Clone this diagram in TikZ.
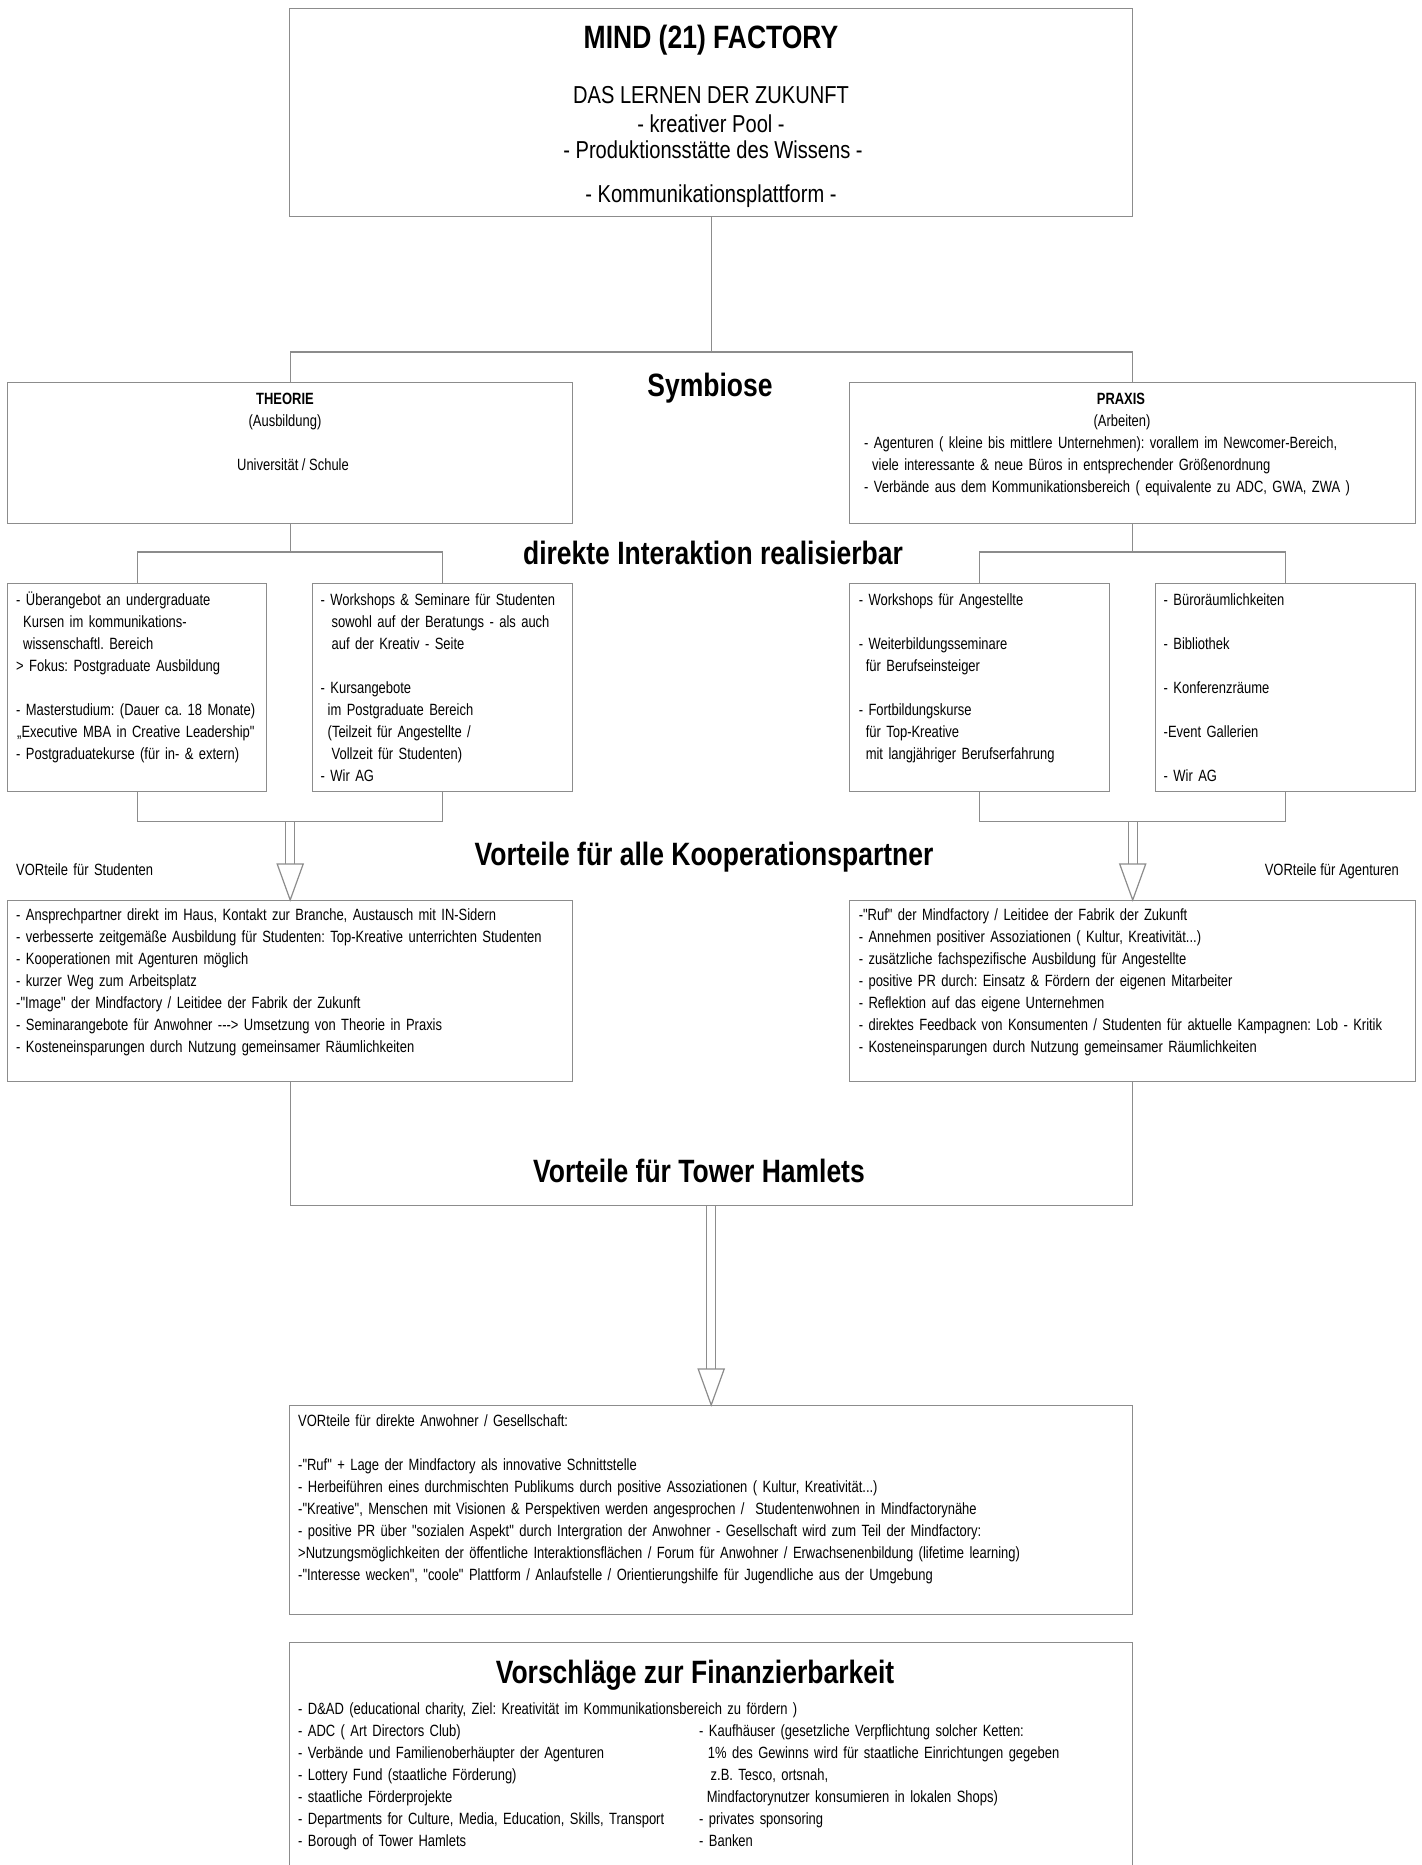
\documentclass[tikz,border=0pt]{standalone}
\usepackage{fontspec}
\setmainfont{Liberation Sans}[FakeStretch=0.82,Ligatures=TeXOff]
\newfontfamily\bodyfont{Liberation Sans}[FakeStretch=0.795,Ligatures=TeXOff]
\usetikzlibrary{calc}
\definecolor{linegray}{RGB}{140,140,140}
\frenchspacing
\newcommand{\hollowarrow}[2]{%
  \draw[conn] ($(#1)+(-4.5,0)$) -- ($(#2)+(-4.5,-36)$);
  \draw[conn] ($(#1)+(4.5,0)$) -- ($(#2)+(4.5,-36)$);
  \draw[conn,fill=white] ($(#2)+(-13,-36)$) -- ($(#2)+(13,-36)$) -- (#2) -- cycle;}
\begin{document}
\begin{tikzpicture}[x=1pt,y=-1pt,
  box/.style={draw=linegray,line width=1.4pt,inner sep=0pt,anchor=north west},
  conn/.style={draw=linegray,line width=1.2pt},
  body/.style={font=\bodyfont\fontsize{16.3}{22}\selectfont\frenchspacing,text width=900pt,align=left,inner sep=0pt,anchor=base west},
  bodyline/.style={font=\bodyfont\fontsize{16.3}{22}\selectfont\frenchspacing,inner sep=0pt,anchor=base},
  boldline/.style={font=\bodyfont\fontsize{16.3}{22}\selectfont\bfseries,inner sep=0pt,anchor=base},
  head/.style={font=\fontsize{32.3}{36}\selectfont\bfseries,inner sep=0pt,anchor=base},
  sub/.style={font=\fontsize{24.5}{28}\selectfont,inner sep=0pt,anchor=base},
]
\useasboundingbox (0,0) rectangle (1421,1865);
\fill[white] (0,0) rectangle (1421,1865);

% boxes
\node[box,minimum width=843pt,minimum height=208pt] (T) at (289,8) {};
\node[box,minimum width=565pt,minimum height=141pt] (TH) at (7,382) {};
\node[box,minimum width=566pt,minimum height=141pt] (PR) at (849,382) {};
\node[box,minimum width=259pt,minimum height=208pt] (L1) at (7,583) {};
\node[box,minimum width=260pt,minimum height=208pt] (L2) at (312,583) {};
\node[box,minimum width=260pt,minimum height=208pt] (R1) at (849,583) {};
\node[box,minimum width=260pt,minimum height=208pt] (R2) at (1155,583) {};
\node[box,minimum width=565pt,minimum height=181pt] (S) at (7,900) {};
\node[box,minimum width=566pt,minimum height=181pt] (A) at (849,900) {};
\node[box,minimum width=843pt,minimum height=209pt] (G) at (289,1405) {};
\node[box,minimum width=843pt,minimum height=260pt] (F) at (289,1642) {};

% connectors
\draw[conn] (T.south) -- (T.south |- 0,352);
\draw[conn] (TH.north) -- ++(0,-30) -| (PR.north);
\draw[conn] (TH.south) -- (TH.south |- 0,552);
\draw[conn] (L1.north) -- ++(0,-31) -| (L2.north);
\draw[conn] (PR.south) -- (PR.south |- 0,552);
\draw[conn] (R1.north) -- ++(0,-31) -| (R2.north);
\draw[conn] (L1.south) -- ++(0,29) -| (L2.south);
\draw[conn] (R1.south) -- ++(0,29) -| (R2.south);
\coordinate (bL) at ($(S.north |- L1.south)+(0,29)$);
\coordinate (bR) at ($(A.north |- R1.south)+(0,29)$);
\hollowarrow{bL}{S.north}
\hollowarrow{bR}{A.north}
\draw[conn] (S.south) -- ++(0,123) -| (A.south);
\coordinate (bT) at ($(G.north |- S.south)+(0,123)$);
\hollowarrow{bT}{G.north}

% top box text
\node[head] (title) at (711,49) {MIND (21) FACTORY};
\node[sub] (t1) at (711,104) {DAS LERNEN DER ZUKUNFT};
\node[sub] (t2) at (711,132) {- kreativer Pool -};
\node[sub] (t3) at (713,158) {- Produktionsstätte des Wissens -};
\node[sub] (t4) at (711,202) {- Kommunikationsplattform -};

\node[head] (sym) at (710,396) {Symbiose};

\node[boldline] (th1) at (285,404) {THEORIE};
\node[bodyline] (th2) at (285,426) {(Ausbildung)};
\node[bodyline] (th3) at (293,470) {Universität / Schule};

\node[boldline] (pr1) at (1121,404) {PRAXIS};
\node[bodyline] (pr2) at (1122,426) {(Arbeiten)};
\node[body] (pr3) at (864,448) {- Agenturen ( kleine bis mittlere Unternehmen): vorallem im Newcomer-Bereich,\\
\hspace*{8pt}viele interessante \& neue Büros in entsprechender Größenordnung\\
- Verbände aus dem Kommunikationsbereich ( equivalente zu ADC, GWA, ZWA )};

\node[head] (dir) at (713,564) {direkte Interaktion realisierbar};

\node[body] (l1t) at (16,605) {- Überangebot an undergraduate\\
\hspace*{7pt}Kursen im kommunikations-\\
\hspace*{7pt}wissenschaftl. Bereich\\
> Fokus: Postgraduate Ausbildung\\
~\\
- Masterstudium: (Dauer ca. 18 Monate)\\
\hspace*{1pt}„Executive MBA in Creative Leadership"\\
- Postgraduatekurse (für in- \& extern)};

\node[body] (l2t) at (320.5,605) {- Workshops \& Seminare für Studenten\\
\hspace*{11pt}sowohl auf der Beratungs - als auch\\
\hspace*{11pt}auf der Kreativ - Seite\\
~\\
- Kursangebote\\
\hspace*{7pt}im Postgraduate Bereich\\
\hspace*{7pt}(Teilzeit für Angestellte /\\
\hspace*{11pt}Vollzeit für Studenten)\\
- Wir AG};

\node[body] (r1t) at (858.6,605) {- Workshops für Angestellte\\
~\\
- Weiterbildungsseminare\\
\hspace*{7pt}für Berufseinsteiger\\
~\\
- Fortbildungskurse\\
\hspace*{7pt}für Top-Kreative\\
\hspace*{7pt}mit langjähriger Berufserfahrung};

\node[body] (r2t) at (1163.5,605) {- Büroräumlichkeiten\\
~\\
- Bibliothek\\
~\\
- Konferenzräume\\
~\\
-Event Gallerien\\
~\\
- Wir AG};

\node[body] (vs) at (16,875) {VORteile für Studenten};
\node[head] (vk) at (704,865) {Vorteile für alle Kooperationspartner};
\node[bodyline,anchor=base east] (va) at (1399,875) {VORteile für Agenturen};

\node[body] (st) at (16,920) {- Ansprechpartner direkt im Haus, Kontakt zur Branche, Austausch mit IN-Sidern\\
- verbesserte zeitgemäße Ausbildung für Studenten: Top-Kreative unterrichten Studenten\\
- Kooperationen mit Agenturen möglich\\
- kurzer Weg zum Arbeitsplatz\\
-"Image" der Mindfactory / Leitidee der Fabrik der Zukunft\\
- Seminarangebote für Anwohner -{}-{}-> Umsetzung von Theorie in Praxis\\
- Kosteneinsparungen durch Nutzung gemeinsamer Räumlichkeiten};

\node[body] (at) at (858.6,920) {-"Ruf" der Mindfactory / Leitidee der Fabrik der Zukunft\\
- Annehmen positiver Assoziationen ( Kultur, Kreativität...)\\
- zusätzliche fachspezifische Ausbildung für Angestellte\\
- positive PR durch: Einsatz \& Fördern der eigenen Mitarbeiter\\
- Reflektion auf das eigene Unternehmen\\
- direktes Feedback von Konsumenten / Studenten für aktuelle Kampagnen: Lob - Kritik\\
- Kosteneinsparungen durch Nutzung gemeinsamer Räumlichkeiten};

\node[head] (tw) at (699,1182) {Vorteile für Tower Hamlets};

\node[body] (gt) at (298,1426) {VORteile für direkte Anwohner / Gesellschaft:\\
~\\
-"Ruf" + Lage der Mindfactory als innovative Schnittstelle\\
- Herbeiführen eines durchmischten Publikums durch positive Assoziationen ( Kultur, Kreativität...)\\
-"Kreative", Menschen mit Visionen \& Perspektiven werden angesprochen /\ \ Studentenwohnen in Mindfactorynähe\\
- positive PR über "sozialen Aspekt" durch Intergration der Anwohner - Gesellschaft wird zum Teil der Mindfactory:\\
>Nutzungsmöglichkeiten der öffentliche Interaktionsflächen / Forum für Anwohner / Erwachsenenbildung (lifetime learning)\\
-"Interesse wecken", "coole" Plattform / Anlaufstelle / Orientierungshilfe für Jugendliche aus der Umgebung};

\node[head] (fin) at (695,1683) {Vorschläge zur Finanzierbarkeit};
\node[body] (fl) at (298,1714) {- D\&AD (educational charity, Ziel: Kreativität im Kommunikationsbereich zu fördern )\\
- ADC ( Art Directors Club)\\
- Verbände und Familienoberhäupter der Agenturen\\
- Lottery Fund (staatliche Förderung)\\
- staatliche Förderprojekte\\
- Departments for Culture, Media, Education, Skills, Transport\\
- Borough of Tower Hamlets};
\node[body] (fr) at (699,1736) {- Kaufhäuser (gesetzliche Verpflichtung solcher Ketten:\\
\hspace*{8.7pt}1\% des Gewinns wird für staatliche Einrichtungen gegeben\\
\hspace*{11.5pt}z.B. Tesco, ortsnah,\\
\hspace*{7.6pt}Mindfactorynutzer konsumieren in lokalen Shops)\\
- privates sponsoring\\
- Banken};
\end{tikzpicture}
\end{document}
